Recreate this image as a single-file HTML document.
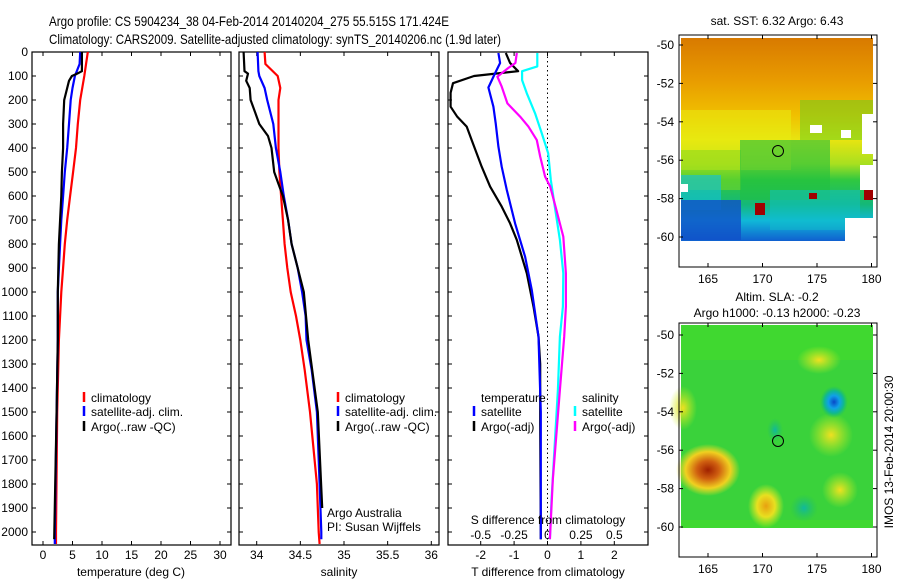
<!DOCTYPE html>
<html><head><meta charset="utf-8"><style>
html,body{margin:0;padding:0;background:#fff;}
svg{display:block;font-family:"Liberation Sans",sans-serif;}
text{fill:#000;}
</style></head><body>
<svg id="chart" width="900" height="580" viewBox="0 0 900 580" xmlns="http://www.w3.org/2000/svg">
<defs>
<linearGradient id="sstTop" x1="0" y1="0" x2="0" y2="1">
<stop offset="0" stop-color="#d87a00"/><stop offset="0.2" stop-color="#e89a00"/><stop offset="0.38" stop-color="#f0c000"/><stop offset="0.5" stop-color="#e8e410"/><stop offset="0.62" stop-color="#a8e020"/><stop offset="0.7" stop-color="#30c840"/><stop offset="0.82" stop-color="#14b878"/><stop offset="0.9" stop-color="#10b8d8"/><stop offset="1" stop-color="#1060d0"/>
</linearGradient>
<linearGradient id="sstLeft" x1="0" y1="0" x2="1" y2="0">
<stop offset="0" stop-color="#f0e000" stop-opacity="0.6"/><stop offset="0.5" stop-color="#30c840" stop-opacity="0.0"/>
</linearGradient>
<radialGradient id="blobRed"><stop offset="0" stop-color="#a02000"/><stop offset="0.35" stop-color="#d06010"/><stop offset="0.7" stop-color="#f0d020"/><stop offset="1" stop-color="#f0e020" stop-opacity="0"/></radialGradient>
<radialGradient id="blobYel"><stop offset="0" stop-color="#e8a010"/><stop offset="0.5" stop-color="#e8e020"/><stop offset="1" stop-color="#d8f020" stop-opacity="0"/></radialGradient>
<radialGradient id="blobYel2"><stop offset="0" stop-color="#f0e020"/><stop offset="1" stop-color="#c8f020" stop-opacity="0"/></radialGradient>
<radialGradient id="blobBlue"><stop offset="0" stop-color="#0848c8"/><stop offset="0.4" stop-color="#10a0e8"/><stop offset="0.7" stop-color="#10b890"/><stop offset="1" stop-color="#20c060" stop-opacity="0"/></radialGradient>
<radialGradient id="blobTeal"><stop offset="0" stop-color="#10b8a0"/><stop offset="1" stop-color="#20c060" stop-opacity="0"/></radialGradient>
</defs>

<text x="49" y="26" font-size="14" textLength="400" lengthAdjust="spacingAndGlyphs">Argo profile: CS 5904234_38 04-Feb-2014 20140204_275 55.515S 171.424E</text>
<text x="49" y="44" font-size="14" textLength="452" lengthAdjust="spacingAndGlyphs">Climatology: CARS2009. Satellite-adjusted climatology: synTS_20140206.nc (1.9d later)</text>

<g id="panels"></g>

<!-- SST map -->
<g>
<text x="777" y="25" font-size="12" text-anchor="middle">sat. SST: 6.32 Argo: 6.43</text>
<rect x="681" y="38" width="192" height="203" fill="url(#sstTop)"/>
<rect x="681" y="110" width="110" height="60" fill="#e8ec10" opacity="0.55"/>
<rect x="681" y="150" width="60" height="40" fill="#80d820" opacity="0.5"/>
<rect x="681" y="175" width="40" height="35" fill="#10c0e0" opacity="0.6"/>
<rect x="681" y="200" width="60" height="40" fill="#1050c8" opacity="0.8"/>
<rect x="740" y="140" width="90" height="60" fill="#22c040" opacity="0.6"/>
<rect x="770" y="190" width="90" height="40" fill="#10c0c8" opacity="0.5"/>
<rect x="800" y="100" width="73" height="40" fill="#60d020" opacity="0.5"/>
<rect x="862" y="114" width="11" height="40" fill="#fff"/>
<rect x="860" y="165" width="13" height="25" fill="#fff"/>
<rect x="810" y="125" width="12" height="8" fill="#fff"/>
<rect x="841" y="130" width="10" height="8" fill="#fff"/>
<rect x="681" y="184" width="7" height="8" fill="#fff"/>
<rect x="845" y="218" width="28" height="23" fill="#fff"/>
<rect x="755" y="203" width="10" height="12" fill="#a00000"/>
<rect x="809" y="193" width="8" height="6" fill="#a00000"/>
<rect x="864" y="190" width="9" height="10" fill="#a00000"/>
<rect x="681" y="241" width="192" height="26" fill="#fff"/>
<circle cx="778" cy="151" r="5.5" fill="none" stroke="#000"/>
<rect x="679" y="35" width="198" height="232" fill="none" stroke="#000" stroke-width="1"/>
</g>

<!-- SLA map -->
<g>
<text x="777" y="301" font-size="12" text-anchor="middle">Altim. SLA: -0.2</text>
<text x="777" y="317" font-size="12" text-anchor="middle">Argo h1000: -0.13 h2000: -0.23</text>
<rect x="681" y="325" width="192" height="203" fill="#40d830"/>
<rect x="681" y="360" width="192" height="160" fill="#30c850" opacity="0.35"/>
<ellipse cx="683" cy="408" rx="14" ry="22" fill="url(#blobYel2)"/>
<ellipse cx="819" cy="360" rx="22" ry="14" fill="url(#blobYel2)"/>
<ellipse cx="831" cy="435" rx="22" ry="22" fill="url(#blobYel2)"/>
<ellipse cx="840" cy="490" rx="18" ry="18" fill="url(#blobYel2)"/>
<ellipse cx="708" cy="470" rx="32" ry="26" fill="url(#blobRed)"/>
<ellipse cx="766" cy="506" rx="18" ry="22" fill="url(#blobYel)"/>
<ellipse cx="834" cy="402" rx="14" ry="16" fill="url(#blobBlue)"/>
<ellipse cx="804" cy="508" rx="14" ry="14" fill="url(#blobTeal)"/>
<ellipse cx="775" cy="430" rx="8" ry="12" fill="url(#blobTeal)"/>
<rect x="681" y="528" width="192" height="29" fill="#fff"/>
<circle cx="778" cy="441" r="5.5" fill="none" stroke="#000"/>
<rect x="679" y="323" width="198" height="234" fill="none" stroke="#000" stroke-width="1"/>
<text x="0" y="0" font-size="12" text-anchor="middle" transform="translate(893,452) rotate(-90)">IMOS 13-Feb-2014 20:00:30</text>
</g>
<g id="mapaxes"></g>
</svg>
<script>
// ---------- data ----------
const depthTempClim = [0,100,200,300,400,500,600,700,800,900,1000,1200,1500,2000,2050];
const tempClim      = [7.6,7.0,6.3,5.9,5.6,5.1,4.6,4.1,3.7,3.4,3.1,2.7,2.4,2.2,2.2];
const depthTempSat  = [0,50,100,150,200,300,400,500,600,700,800,900,1000,1200,1500,2000,2050];
const tempSat       = [6.3,6.2,5.4,5.0,4.7,4.4,4.1,3.7,3.4,3.1,2.9,2.7,2.5,2.5,2.3,2.0,2.0];
const depthTempArgo = [0,80,90,100,120,150,200,300,400,500,600,700,800,1000,1200,1500,2030];
const tempArgo      = [6.6,6.6,5.8,4.9,4.4,4.1,3.6,3.4,3.4,3.2,3.1,2.9,2.7,2.5,2.5,2.3,1.9];

const depthSalClim = [0,50,100,150,200,300,400,500,600,700,800,900,1000,1100,1200,1325,1500,1800,2000,2050];
const salClim      = [34.09,34.10,34.24,34.27,34.25,34.25,34.25,34.26,34.28,34.30,34.32,34.35,34.39,34.45,34.50,34.55,34.61,34.69,34.71,34.72];
const depthSalSat  = [0,80,100,150,200,300,400,500,600,700,800,900,1000,1100,1200,1325,1500,1800,2000,2030];
const salSat       = [34.01,34.02,34.03,34.09,34.12,34.19,34.22,34.27,34.31,34.36,34.40,34.47,34.52,34.56,34.57,34.63,34.69,34.72,34.74,34.74];
const depthSalArgo = [0,80,90,120,150,200,250,300,350,400,500,550,600,700,800,900,1000,1200,1500,1900];
const salArgo      = [33.85,33.86,33.90,33.88,33.92,33.93,33.98,34.03,34.13,34.17,34.20,34.25,34.30,34.36,34.40,34.47,34.54,34.59,34.70,34.75];

const depthDiffTArgo = [4,46,80,88,100,130,170,228,270,311,367,478,561,644,714,783,922,1061,1186,1300,1550,2030];
const diffTArgo      = [-1.25,-1.12,-0.88,-1.42,-2.2,-2.83,-2.9,-2.9,-2.7,-2.42,-2.27,-1.97,-1.72,-1.37,-1.12,-0.92,-0.62,-0.42,-0.27,-0.22,-0.22,-0.2];
const depthDiffTSat  = [4,46,88,148,228,297,394,478,575,714,853,992,1186,1500,2030];
const diffTSat       = [-1.47,-1.42,-1.57,-1.77,-1.62,-1.55,-1.47,-1.37,-1.22,-0.97,-0.67,-0.47,-0.27,-0.2,-0.2];
const depthDiffSSat  = [4,60,80,117,172,256,339,422,533,644,783,922,1061,1186,1408,1867,2030];
const diffSSat       = [-0.076,-0.076,-0.19,-0.19,-0.155,-0.093,-0.043,0.005,0.025,0.055,0.093,0.118,0.115,0.093,0.078,0.03,0.018];
const depthDiffSArgo = [4,46,67,103,144,214,269,311,367,436,519,561,633,769,922,1061,1186,1408,1783,2030];
const diffSArgo      = [-0.23,-0.24,-0.295,-0.375,-0.343,-0.3,-0.205,-0.143,-0.08,-0.055,-0.018,0.02,0.055,0.118,0.138,0.138,0.125,0.093,0.04,0.018];

const depthTicks = [0,100,200,300,400,500,600,700,800,900,1000,1100,1200,1300,1400,1500,1600,1700,1800,1900,2000];
const tempTicks = [0,5,10,15,20,25,30];
const salTicks = [34,34.5,35,35.5,36];
const salTickLabels = ["34","34.5","35","35.5","36"];
const diffTTicks = [-2,-1,0,1,2];
const diffSTicks = [-0.5,-0.25,0,0.25,0.5];
const diffSTickLabels = ["-0.5","-0.25","0","0.25","0.5"];
const lonTicks = [165,170,175,180];
const latTicks = [-50,-52,-54,-56,-58,-60];

// ---------- scales ----------
const NS = "http://www.w3.org/2000/svg";
const TOP = 52, BOT = 545;
const yDepth = d => TOP + d * 0.24;
const P1 = {x0:32, x1:231}, P2 = {x0:239, x1:439}, P3 = {x0:448, x1:648};
const xTemp = t => 43 + t * 5.9;
const xSal = s => 256.7 + (s - 34) * 87.3;
const xDT = t => 547.5 + t * 33.4;
const xDS = s => 547.5 + s * 133.6;
const panelsG = document.getElementById('panels');

function mk(tag, attrs, parent){const e=document.createElementNS(NS,tag);for(const k in attrs)e.setAttribute(k,attrs[k]);(parent||panelsG).appendChild(e);return e;}
function txt(x,y,s,size,anchor,parent){const e=mk('text',{x:x,y:y,'font-size':size,'text-anchor':anchor||'start'},parent);e.textContent=s;return e;}

function frame(P,name){
  const r=mk('rect',{x:P.x0,y:TOP,width:P.x1-P.x0,height:BOT-TOP,fill:'none',stroke:'#000','stroke-width':1.2});
  
  
  depthTicks.forEach(d=>{
    mk('line',{x1:P.x0,x2:P.x0+4,y1:yDepth(d),y2:yDepth(d),stroke:'#000'});
    mk('line',{x1:P.x1-4,x2:P.x1,y1:yDepth(d),y2:yDepth(d),stroke:'#000'});
  });
}
function xticks(P,ticks,fx,labels,name){
  ticks.forEach((t,i)=>{
    const x=fx(t);
    mk('line',{x1:x,x2:x,y1:TOP,y2:TOP+4,stroke:'#000'});
    mk('line',{x1:x,x2:x,y1:BOT-4,y2:BOT,stroke:'#000'});
    const e=txt(x,559,labels?labels[i]:String(t),12,'middle');
    
    
  });
}
function line(depths,vals,fx,color,name){
  const pts=depths.map((d,i)=>fx(vals[i]).toFixed(1)+','+yDepth(d).toFixed(1)).join(' ');
  const e=mk('polyline',{points:pts,fill:'none',stroke:color,'stroke-width':2.2,'stroke-linejoin':'round'});
  
  
}
function legend(x,y,color,label,name){
  mk('line',{x1:x,x2:x,y1:y-10,y2:y,stroke:color,'stroke-width':2.5});
  const e=txt(x+7,y,label,12,'start');
  
  
}

// depth labels
depthTicks.forEach(d=>{
  const e=txt(28,yDepth(d)+4,String(d),12,'end');
  
  
});

// panel 1
frame(P1,'temperature-panel');
xticks(P1,tempTicks,xTemp,null,'temperature');
line(depthTempClim,tempClim,xTemp,'#ff0000','temperature-climatology-line');
line(depthTempSat,tempSat,xTemp,'#0000ff','temperature-satellite-line');
line(depthTempArgo,tempArgo,xTemp,'#000000','temperature-argo-line');
let t=txt(131,576,'temperature (deg C)',12,'middle');  
legend(84,402,'#ff0000','climatology','temp-legend-climatology');
legend(84,416,'#0000ff','satellite-adj. clim.','temp-legend-satellite');
legend(84,431,'#000000','Argo(..raw -QC)','temp-legend-argo');

// panel 2
frame(P2,'salinity-panel');
xticks(P2,salTicks,xSal,salTickLabels,'salinity');
line(depthSalClim,salClim,xSal,'#ff0000','salinity-climatology-line');
line(depthSalSat,salSat,xSal,'#0000ff','salinity-satellite-line');
line(depthSalArgo,salArgo,xSal,'#000000','salinity-argo-line');
t=txt(339,576,'salinity',12,'middle');  
legend(338,402,'#ff0000','climatology','sal-legend-climatology');
legend(338,416,'#0000ff','satellite-adj. clim.','sal-legend-satellite');
legend(338,431,'#000000','Argo(..raw -QC)','sal-legend-argo');
t=txt(327,517,'Argo Australia',12,'start');  
t=txt(327,531,'PI: Susan Wijffels',12,'start');  

// panel 3
frame(P3,'difference-panel');
xticks(P3,diffTTicks,xDT,null,'t-diff');
mk('line',{x1:xDT(0),x2:xDT(0),y1:TOP,y2:BOT,stroke:'#000','stroke-dasharray':'1.5,3','stroke-width':1});
diffSTicks.forEach((s,i)=>{
  const e=txt(xDS(s),539,diffSTickLabels[i],12,'middle');
  
  
});
line(depthDiffTArgo,diffTArgo,xDT,'#000000','t-diff-argo-line');
line(depthDiffTSat,diffTSat,xDT,'#0000ff','t-diff-satellite-line');
line(depthDiffSSat,diffSSat,xDS,'#00ffff','s-diff-satellite-line');
line(depthDiffSArgo,diffSArgo,xDS,'#ff00ff','s-diff-argo-line');
t=txt(548,576,'T difference from climatology',12,'middle');  
t=txt(548,524,'S difference from climatology',12,'middle');  
t=txt(481,402,'temperature',12,'start');  
t=txt(582,402,'salinity',12,'start');  
legend(474,416,'#0000ff','satellite','diff-legend-t-satellite');
legend(474,431,'#000000','Argo(-adj)','diff-legend-t-argo');
legend(575,416,'#00ffff','satellite','diff-legend-s-satellite');
legend(575,431,'#ff00ff','Argo(-adj)','diff-legend-s-argo');

// map axes
const mapG=document.getElementById('mapaxes');
const xLon = l => 708 + (l-165)*10.9;
function mapAxes(y0,y1,latY,name){
  lonTicks.forEach(l=>{
    const x=xLon(l);
    mk('line',{x1:x,x2:x,y1:y0,y2:y0+4,stroke:'#000'},mapG);
    mk('line',{x1:x,x2:x,y1:y1-4,y2:y1,stroke:'#000'},mapG);
    const e=txt(x,y1+16,String(l),12,'middle',mapG);
    
    
  });
  latTicks.forEach(la=>{
    const y=latY(la);
    mk('line',{x1:679,x2:683,y1:y,y2:y,stroke:'#000'},mapG);
    mk('line',{x1:873,x2:877,y1:y,y2:y,stroke:'#000'},mapG);
    const e=txt(674,y+4,String(la),12,'end',mapG);
    
    
  });
}
mapAxes(35,267,la=>45+(-50-la)*19.2,'sst-map');
mapAxes(323,557,la=>335+(-50-la)*19.2,'sla-map');
</script>
</body></html>
